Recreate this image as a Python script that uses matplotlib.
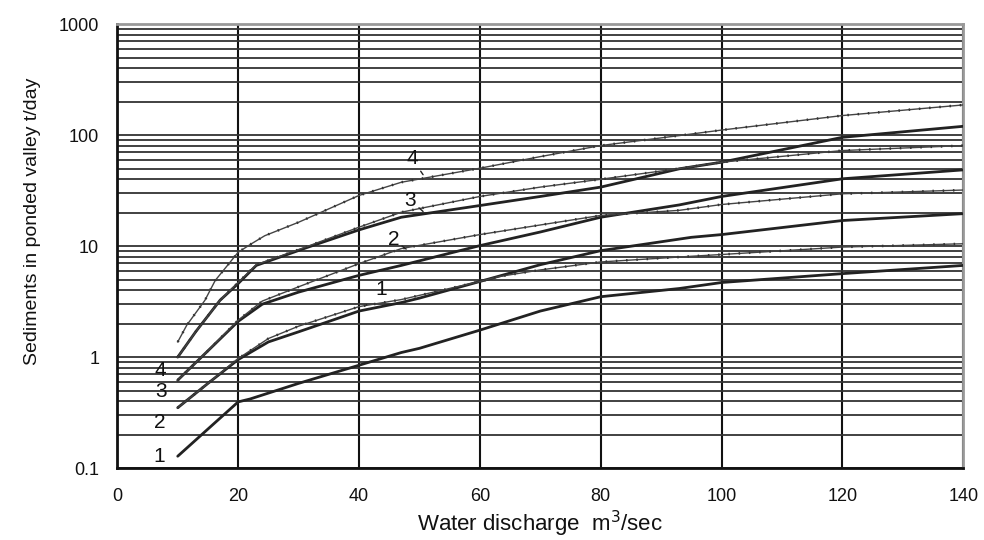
import matplotlib
matplotlib.use("Agg")
import matplotlib.pyplot as plt
from matplotlib.ticker import FixedLocator, LogLocator, NullFormatter

plt.rcParams['font.family'] = ['Liberation Sans', 'DejaVu Sans']

# ---- data ----
thick1_x = [10, 15, 20, 22, 30, 40, 47, 50, 60, 70, 80, 93, 100, 120, 140]
thick1_y = [0.128, 0.225, 0.395, 0.42, 0.58, 0.845, 1.1, 1.2, 1.75, 2.6, 3.5, 4.15, 4.7, 5.65, 6.7]

thick2_x = [10, 15, 20, 25, 30, 40, 47, 50, 60, 70, 80, 95, 100, 120, 140]
thick2_y = [0.35, 0.58, 0.95, 1.37, 1.69, 2.6, 3.1, 3.4, 4.8, 6.8, 9.1, 12, 12.7, 17, 19.6]

thick3_x = [10, 15, 20, 24, 30, 40, 47, 60, 70, 80, 93, 100, 120, 140]
thick3_y = [0.62, 1.14, 2.1, 3.0, 3.85, 5.45, 6.7, 10.1, 13.4, 18.2, 23.5, 28, 40.4, 48.6]

thick4_x = [10, 13, 17, 20, 23, 31.6, 40, 47, 60, 70, 80, 93, 100, 120, 140]
thick4_y = [1.0, 1.7, 3.25, 4.6, 6.7, 9.8, 14, 18.2, 23.2, 28, 34, 49.7, 57, 95.5, 120]

thin1_x = [10, 15, 20, 25, 30, 40, 47, 50, 60, 63, 70, 80, 95, 100, 120, 140]
thin1_y = [0.35, 0.58, 0.97, 1.47, 1.9, 2.85, 3.3, 3.6, 4.8, 5.3, 6.1, 7.2, 8.1, 8.4, 9.8, 10.5]

thin2_x = [10, 15, 20, 24, 30, 40, 47, 60, 70, 80, 93, 100, 120, 140]
thin2_y = [0.62, 1.14, 2.15, 3.2, 4.3, 6.95, 9.5, 12.7, 15.5, 18.9, 21, 23.7, 29.6, 32]

thin3_x = [10, 13, 17, 20, 23, 31.6, 40, 47, 60, 70, 80, 93, 100, 120, 140]
thin3_y = [1.0, 1.7, 3.25, 4.7, 6.8, 10, 14.8, 20.2, 28, 34, 40, 50, 57, 72.6, 80.5]

thin4_x = [10, 11.5, 14.5, 16.2, 20, 22.2, 24.4, 30, 40, 47, 60, 70, 80, 93, 100, 120, 140]
thin4_y = [1.37, 1.94, 3.25, 4.9, 8.8, 10.5, 12.4, 16.4, 28.6, 37.6, 50.3, 64, 80.5, 99, 111, 150, 187]

x_ticks = [0, 20, 40, 60, 80, 100, 120, 140]
y_ticks = [0.1, 1, 10, 100, 1000]
y_tick_labels = ['0.1', '1', '10', '100', '1000']

left_labels = ['4', '3', '2', '1']
left_label_x = [7.2, 7.2, 7.0, 7.0]
left_label_y = [0.75, 0.486, 0.255, 0.127]

curve_labels = ['4', '3', '2', '1']
curve_label_xy = [(48.8, 61), (48.5, 26), (45.7, 11.4), (43.6, 4.1)]
curve_label_target = [(50.6, 44), (50.6, 20.5), (47.8, 9.4), (41.2, 2.95)]

# ---- figure ----
fig = plt.figure(figsize=(9.84, 5.4), dpi=100)
ax = fig.add_axes([0.1192, 0.1331, 0.8598, 0.8223])
ax.set_yscale('log')
ax.set_xlim(0, 140)
ax.set_ylim(0.1, 1000)

ax.xaxis.set_major_locator(FixedLocator(x_ticks))
ax.yaxis.set_major_locator(FixedLocator(y_ticks))
ax.set_yticklabels(y_tick_labels)
ax.yaxis.set_minor_locator(LogLocator(base=10, subs=range(2, 10), numticks=20))
ax.yaxis.set_minor_formatter(NullFormatter())
ax.tick_params(axis='both', which='both', length=0, colors='#111')
ax.tick_params(axis='x', labelsize=13, pad=14)
ax.tick_params(axis='y', labelsize=13, pad=13)

ax.xaxis.grid(True, which='major', color='#111', lw=1.5)
ax.yaxis.grid(True, which='both', color='#333', lw=1.3)
ax.set_axisbelow(True)

for side in ['left', 'bottom']:
    ax.spines[side].set_color('#111')
    ax.spines[side].set_linewidth(2)
for side in ['top', 'right']:
    ax.spines[side].set_color('#999')
    ax.spines[side].set_linewidth(2)

thick_sets = [(thick1_x, thick1_y), (thick2_x, thick2_y), (thick3_x, thick3_y), (thick4_x, thick4_y)]
thin_sets = [(thin1_x, thin1_y), (thin2_x, thin2_y), (thin3_x, thin3_y), (thin4_x, thin4_y)]

for xs, ys in thick_sets:
    ax.plot(xs, ys, color='#222', lw=2.0, solid_capstyle='round', zorder=3)
for xs, ys in thin_sets:
    ax.plot(xs, ys, color='#444', lw=1.0, zorder=4)
    ax.plot(xs, ys, color='#333', lw=1.8, linestyle=(0, (0.6, 3.5)), zorder=4)

for t, lx, ly in zip(left_labels, left_label_x, left_label_y):
    ax.text(lx, ly, t, fontsize=15, ha='center', va='center', color='#111', zorder=5)

for t, (lx, ly), (tx, ty) in zip(curve_labels, curve_label_xy, curve_label_target):
    ax.annotate(t, xy=(tx, ty), xytext=(lx, ly), fontsize=15, ha='center', va='center',
                color='#111', zorder=5,
                arrowprops=dict(arrowstyle='-', color='#222', lw=1.0, shrinkA=6, shrinkB=0))

fig.text(540 / 984, 1 - 524 / 540, 'Water discharge  m$^3$/sec', fontsize=16,
         ha='center', va='center', color='#111')
fig.text(33 / 984, 1 - 221 / 540, 'Sediments in ponded valley t/day', fontsize=14,
         rotation=90, ha='center', va='center', color='#111')

fig.savefig('out.png', dpi=100)
